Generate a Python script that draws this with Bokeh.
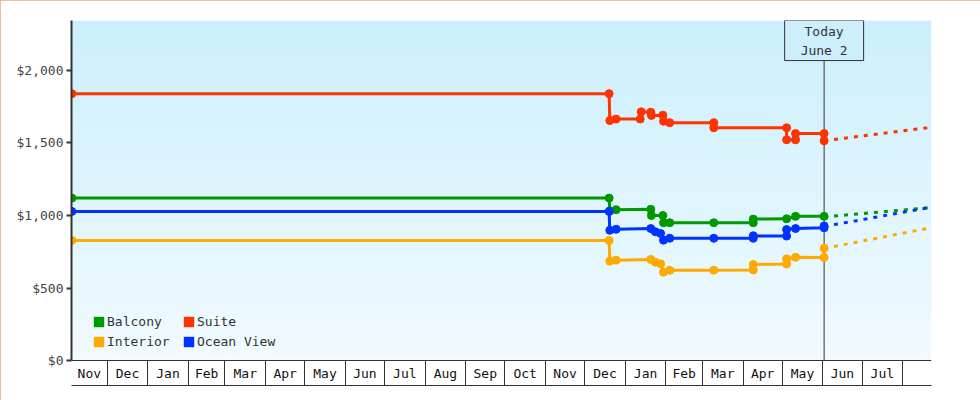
import numpy as np
import pandas as pd
from bokeh.plotting import figure
from bokeh.models import (Range1d, FixedTicker, NumeralTickFormatter, Label,
                          Legend, LegendItem, ColumnDataSource)
from bokeh.core.properties import value
from bokeh.embed import file_html
from bokeh.resources import INLINE

FONT = "DejaVu Sans Mono"

# ---------------- data ----------------
axis_start = "2020-11-03 17:00"
axis_end = "2022-08-23 02:00"
today = "2022-06-02"
today_text = "Today\nJune 2"

suite_dates = ["2020-11-04", "2021-12-19 16:00", "2021-12-20 04:00", "2021-12-25",
               "2022-01-12 10:00", "2022-01-13 05:00", "2022-01-20 12:00", "2022-01-21",
               "2022-01-29 18:00", "2022-01-30 06:00", "2022-02-04", "2022-03-09 16:00",
               "2022-03-09 16:00", "2022-05-04 08:00", "2022-05-04 08:00", "2022-05-11 04:00",
               "2022-05-11 04:00", "2022-06-02", "2022-06-02"]
suite_prices = [1840, 1840, 1655, 1665, 1665, 1715, 1712, 1690, 1692, 1650, 1640, 1640,
                1605, 1605, 1522, 1522, 1565, 1565, 1515]

balcony_dates = ["2020-11-04", "2021-12-19 16:00", "2021-12-20 04:00", "2021-12-25",
                 "2022-01-20 12:00", "2022-01-21", "2022-01-29 18:00", "2022-01-30 06:00",
                 "2022-02-04", "2022-03-09 16:00", "2022-04-08 20:00", "2022-04-08 20:00",
                 "2022-05-04 08:00", "2022-05-11 04:00", "2022-06-02"]
balcony_prices = [1120, 1120, 1032, 1040, 1043, 1000, 1000, 950, 950, 950, 950, 975,
                  977, 994, 994]

ocean_dates = ["2020-11-04", "2021-12-19 16:00", "2021-12-20 04:00", "2021-12-25",
               "2022-01-20 12:00", "2022-01-24", "2022-01-28", "2022-01-30 06:00",
               "2022-02-04", "2022-03-09 16:00", "2022-04-08 20:00", "2022-04-08 20:00",
               "2022-05-04 08:00", "2022-05-04 08:00", "2022-05-11 04:00", "2022-06-02",
               "2022-06-02"]
ocean_prices = [1028, 1028, 898, 905, 910, 888, 876, 830, 843, 843, 843, 860,
                858, 903, 910, 915, 928]

interior_dates = ["2020-11-04", "2021-12-19 16:00", "2021-12-20 04:00", "2021-12-25",
                  "2022-01-20 12:00", "2022-01-24", "2022-01-28", "2022-01-30 06:00",
                  "2022-02-04", "2022-03-09 16:00", "2022-04-08 20:00", "2022-04-08 20:00",
                  "2022-05-04 08:00", "2022-05-04 08:00", "2022-05-11 04:00", "2022-06-02",
                  "2022-06-02"]
interior_prices = [828, 828, 685, 692, 697, 678, 667, 609, 622, 623, 625, 662,
                   665, 701, 712, 710, 775]

forecast_dates = ["2022-06-02", "2022-08-23 02:00"]
suite_forecast = [1515, 1608]
balcony_forecast = [990, 1055]
ocean_forecast = [925, 1057]
interior_forecast = [773, 916]

month_labels = ["Nov", "Dec", "Jan", "Feb", "Mar", "Apr", "May", "Jun", "Jul", "Aug",
                "Sep", "Oct", "Nov", "Dec", "Jan", "Feb", "Mar", "Apr", "May", "Jun", "Jul"]
month_starts = pd.date_range("2020-11-01", "2022-08-01", freq="MS")

y_ticks = [0, 500, 1000, 1500, 2000]
y_min, y_max = -172.4, 2344.8

series = [
    ("Balcony", balcony_dates, balcony_prices, balcony_forecast, "#009900"),
    ("Suite", suite_dates, suite_prices, suite_forecast, "#ff3300"),
    ("Interior", interior_dates, interior_prices, interior_forecast, "#ffaa00"),
    ("Ocean View", ocean_dates, ocean_prices, ocean_forecast, "#0033ff"),
]

# ---------------- helpers ----------------
def ms(t):
    return pd.Timestamp(t).value / 1e6

def to_dt(lst):
    return pd.to_datetime(lst, format="ISO8601")

x0_ms, x1_ms, today_ms = ms(axis_start), ms(axis_end), ms(today)

p = figure(width=980, height=400, output_backend="svg", toolbar_location=None,
           x_axis_type="datetime", x_range=Range1d(x0_ms, x1_ms),
           y_range=Range1d(y_min, y_max),
           min_border_left=71, min_border_right=49, min_border_top=20, min_border_bottom=15)
p.outline_line_color = None
p.background_fill_color = "white"
p.border_fill_color = "white"
p.grid.visible = False
p.styles = {"outline": "2px solid #e9ad6b", "outline-offset": "-2px"}

# background gradient (plot area above the zero line)
n = 240
t = np.linspace(0, 1, n)
bottom_rgb = np.array([241, 250, 255])
top_rgb = np.array([203, 239, 252])
img = np.zeros((n, 1), dtype=np.uint32)
view = img.view(dtype=np.uint8).reshape((n, 1, 4))
for k in range(3):
    view[:, 0, k] = np.round(bottom_rgb[k] + (top_rgb[k] - bottom_rgb[k]) * t).astype(np.uint8)
view[:, 0, 3] = 255
p.image_rgba(image=[img], x=x0_ms, y=0, dw=x1_ms - x0_ms, dh=y_max)

# zero line and today line
p.segment(x0=[x0_ms], y0=[0], x1=[x1_ms], y1=[0], line_color="#333333", line_width=1)
p.segment(x0=[today_ms], y0=[0], x1=[today_ms], y1=[y_max], line_color="#333333", line_width=1)

# month cells
starts_ms = [ms(s) for s in month_starts]
mids = []
for i, lab in enumerate(month_labels):
    a = max(starts_ms[i], x0_ms)
    b = starts_ms[i + 1]
    mids.append((a + b) / 2)
p.text(x=mids, y=[0] * len(mids), text=month_labels, y_offset=13,
       text_align="center", text_baseline="middle", text_font=value(FONT),
       text_font_size=value("13px"), text_color="#111111")

# series
legend_items = {}
for name, d, v, fc, color in series:
    xs = to_dt(d)
    src = ColumnDataSource(dict(x=xs, y=v))
    p.line("x", "y", source=src, line_color=color, line_width=3)
    p.scatter("x", "y", source=src, marker="circle", size=8, fill_color=color, line_color=color)
    fsrc = ColumnDataSource(dict(x=to_dt(forecast_dates), y=fc))
    p.line("x", "y", source=fsrc, line_color=color, line_width=3, line_dash="4 6",
           line_dash_offset=0)
    # zero-area swatch renderer (for the legend only)
    sw = p.quad(left=[xs[0]], right=[xs[0]], top=[v[0]], bottom=[v[0]],
                fill_color=color, line_color=None)
    legend_items[name] = sw

# axes
p.yaxis.ticker = FixedTicker(ticks=y_ticks)
p.yaxis.formatter = NumeralTickFormatter(format="$0,0")
p.yaxis.bounds = (0, y_max)
p.yaxis.axis_line_color = "#333333"
p.yaxis.axis_line_width = 2
p.yaxis.major_tick_line_color = "#333333"
p.yaxis.major_tick_line_width = 2
p.yaxis.major_tick_in = 0
p.yaxis.major_tick_out = 5
p.yaxis.minor_tick_line_color = None
p.yaxis.major_label_standoff = 3
p.yaxis.major_label_text_font = FONT
p.yaxis.major_label_text_font_size = "13px"
p.yaxis.major_label_text_color = "#444444"

sep_ms = [s for s in starts_ms if x0_ms < s < x1_ms]
p.xaxis.ticker = FixedTicker(ticks=[], minor_ticks=sep_ms)
p.xaxis.axis_line_color = "#333333"
p.xaxis.axis_line_width = 1
p.xaxis.major_tick_in = 0
p.xaxis.major_tick_out = 0
p.xaxis.minor_tick_in = 25
p.xaxis.minor_tick_out = 0
p.xaxis.minor_tick_line_color = "#333333"
p.xaxis.minor_tick_line_width = 1
p.xaxis.major_label_text_font_size = "0px"

# legend
order = ["Balcony", "Interior", "Suite", "Ocean View"]
legend = Legend(items=[LegendItem(label=nm, renderers=[legend_items[nm]]) for nm in order],
                location=(21, 36), orientation="vertical", ncols=2,
                glyph_width=13, glyph_height=13, label_standoff=2, label_height=16,
                label_width=71, spacing=4, padding=0, margin=0, border_line_color=None,
                background_fill_alpha=0, label_text_font=FONT,
                label_text_font_size="13px", label_text_color="#333333")
p.add_layout(legend)

# today label
p.add_layout(Label(x=today_ms, y=y_max, text=today_text, text_align="center",
                   text_baseline="top", text_font=FONT, text_font_size="13px",
                   text_color="#333333", text_line_height=1.27,
                   border_line_color="#333333", border_line_width=1,
                   background_fill_color="#cdeffc", padding=(16, 3)))

open("out.html", "w").write(file_html(p, INLINE))
